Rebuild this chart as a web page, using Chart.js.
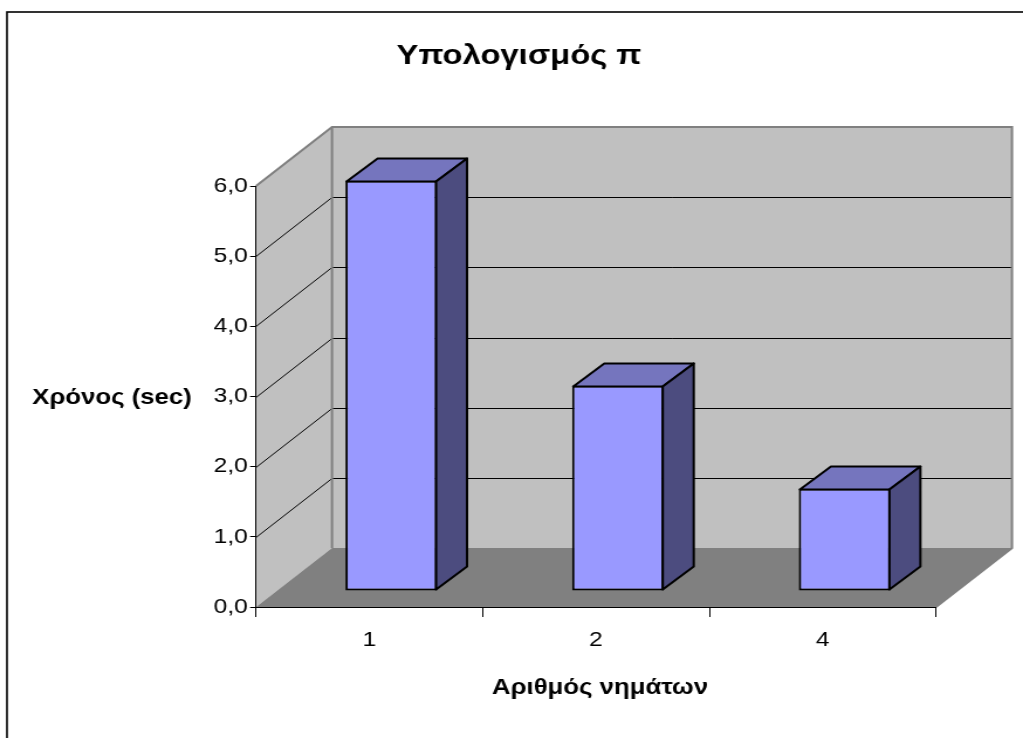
<!DOCTYPE html>
<html>
<head>
<meta charset="utf-8">
<script src="https://cdn.jsdelivr.net/npm/chart.js@4/dist/chart.umd.min.js"></script>
<style>
  html, body { margin: 0; padding: 0; background: #ffffff; overflow: hidden; }
  #c { display: block; }
</style>
</head>
<body>
<canvas id="c" width="874" height="738" style="width:1023px;height:738px;"></canvas>
<script>
// ---- data ----
const categories = ['1', '2', '4'];
const timeValues = [5.85, 2.93, 1.46];
const yTickValues = [0, 1, 2, 3, 4, 5, 6];
const chartTitle = 'Υπολογισμός π';
const yAxisTitle = 'Χρόνος (sec)';
const xAxisTitle = 'Αριθμός νημάτων';

// ---- layout (reference is horizontally stretched; canvas is drawn narrower and stretched by CSS) ----
const CW = 874;
const S = 1023 / CW;
const FONT = '"Liberation Sans", Arial, sans-serif';
const WALL_DX = 76 / S, WALL_DY = -59;      // depth of the 3D walls
const BAR_DX = 22 / S, BAR_DY = -16;        // bar front plane offset
const BAR_DEPTH_X = 31 / S, BAR_DEPTH_Y = -23;

const threeD = {
  id: 'threeD',
  beforeDraw(chart) {
    const ctx = chart.ctx;
    const y = chart.scales.y;
    const { left: L, right: R, top: T, bottom: B } = chart.chartArea;
    ctx.save();
    ctx.fillStyle = '#ffffff';
    ctx.fillRect(0, 0, chart.width, chart.height);
    // outer frame
    ctx.strokeStyle = '#000000';
    ctx.lineWidth = 1.6;
    ctx.strokeRect(7 / S, 12, chart.width + 20, chart.height + 20);
    // side wall
    ctx.fillStyle = '#C0C0C0';
    ctx.beginPath();
    ctx.moveTo(L, T); ctx.lineTo(L + WALL_DX, T + WALL_DY);
    ctx.lineTo(L + WALL_DX, B + WALL_DY); ctx.lineTo(L, B); ctx.closePath();
    ctx.fill();
    // back wall
    ctx.fillRect(L + WALL_DX, T + WALL_DY, R - L, B - T);
    // floor
    ctx.fillStyle = '#808080';
    ctx.beginPath();
    ctx.moveTo(L, B); ctx.lineTo(R, B);
    ctx.lineTo(R + WALL_DX, B + WALL_DY); ctx.lineTo(L + WALL_DX, B + WALL_DY); ctx.closePath();
    ctx.fill();
    // gridlines
    ctx.strokeStyle = '#000000';
    ctx.lineWidth = 1;
    yTickValues.forEach(v => {
      if (v === y.min || v === y.max) return;
      const py = Math.round(y.getPixelForValue(v)) + 0.5;
      ctx.beginPath();
      ctx.moveTo(L, py);
      ctx.lineTo(L + WALL_DX, py + WALL_DY);
      ctx.lineTo(R + WALL_DX, py + WALL_DY);
      ctx.stroke();
    });
    // wall edges
    ctx.strokeStyle = '#808080';
    ctx.lineWidth = 2;
    ctx.beginPath();
    ctx.moveTo(L, T); ctx.lineTo(L + WALL_DX, T + WALL_DY);
    ctx.lineTo(R + WALL_DX, T + WALL_DY); ctx.lineTo(R + WALL_DX, B + WALL_DY);
    ctx.lineTo(R, B);
    ctx.moveTo(L + WALL_DX, T + WALL_DY); ctx.lineTo(L + WALL_DX, B + WALL_DY);
    ctx.stroke();
    ctx.restore();
  },
  beforeDatasetsDraw(chart) {
    chart.ctx.save();
    chart.ctx.translate(BAR_DX, BAR_DY);
  },
  afterDatasetsDraw(chart) {
    const ctx = chart.ctx;
    const meta = chart.getDatasetMeta(0);
    ctx.lineWidth = 2;
    ctx.lineJoin = 'round';
    ctx.strokeStyle = '#000000';
    meta.data.forEach(bar => {
      const { x, y, base, width } = bar.getProps(['x', 'y', 'base', 'width'], true);
      const xl = x - width / 2 + 1, xr = x + width / 2 - 1, yt = y + 1, yb = base - 1;
      // top face
      ctx.fillStyle = '#7575BE';
      ctx.beginPath();
      ctx.moveTo(xl, yt); ctx.lineTo(xl + BAR_DEPTH_X, yt + BAR_DEPTH_Y);
      ctx.lineTo(xr + BAR_DEPTH_X, yt + BAR_DEPTH_Y); ctx.lineTo(xr, yt); ctx.closePath();
      ctx.fill(); ctx.stroke();
      // side face
      ctx.fillStyle = '#4C4C7F';
      ctx.beginPath();
      ctx.moveTo(xr, yt); ctx.lineTo(xr + BAR_DEPTH_X, yt + BAR_DEPTH_Y);
      ctx.lineTo(xr + BAR_DEPTH_X, yb + BAR_DEPTH_Y); ctx.lineTo(xr, yb); ctx.closePath();
      ctx.fill(); ctx.stroke();
    });
    ctx.restore();
  },
  afterDraw(chart) {
    const ctx = chart.ctx;
    ctx.save();
    ctx.fillStyle = '#000000';
    ctx.textAlign = 'center';
    ctx.textBaseline = 'middle';
    ctx.font = 'bold 28px ' + FONT;
    ctx.fillText(chartTitle, 519 / S, 56);
    ctx.font = 'bold 22px ' + FONT;
    ctx.fillText(yAxisTitle, 112 / S, 398);
    ctx.fillText(xAxisTitle, 600 / S, 688);
    ctx.restore();
  }
};

new Chart(document.getElementById('c'), {
  type: 'bar',
  data: {
    labels: categories,
    datasets: [{
      data: timeValues,
      backgroundColor: '#9999FF',
      borderColor: '#000000',
      borderWidth: 2,
      borderSkipped: false,
      categoryPercentage: 1,
      barPercentage: 0.405,
      clip: false
    }]
  },
  options: {
    responsive: false,
    animation: false,
    devicePixelRatio: 1,
    layout: { padding: { left: 0, top: 186, right: CW - 936 / S, bottom: 0 } },
    plugins: { legend: { display: false }, title: { display: false }, tooltip: { enabled: false } },
    scales: {
      x: {
        offset: true,
        grid: { offset: true, drawOnChartArea: false, drawTicks: true, tickLength: 10, color: '#000000' },
        border: { color: '#000000', width: 1 },
        ticks: { color: '#000000', font: { family: FONT, size: 21 }, padding: 11, maxRotation: 0 },
        afterFit(scale) { scale.height = 738 - 607; }
      },
      y: {
        min: 0, max: 6,
        grid: { drawOnChartArea: false, drawTicks: true, tickLength: 5, color: '#000000' },
        border: { color: '#000000', width: 1 },
        ticks: {
          stepSize: 1, color: '#000000', padding: 2,
          font: { family: FONT, size: 21 },
          callback: v => v.toFixed(1).replace('.', ',')
        },
        afterFit(scale) { scale.width = 256 / S; }
      }
    }
  },
  plugins: [threeD]
});
</script>
</body>
</html>
